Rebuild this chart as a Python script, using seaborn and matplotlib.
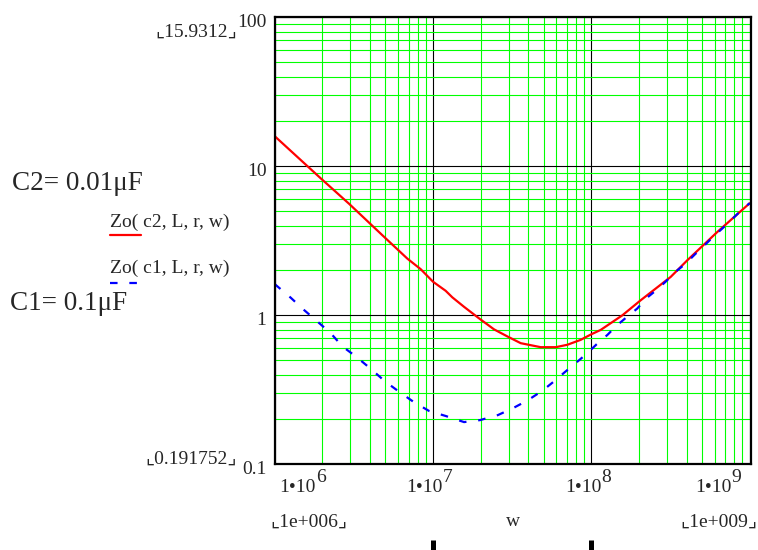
import numpy as np
import pandas as pd
import matplotlib
matplotlib.use("Agg")
import matplotlib.pyplot as plt
import seaborn as sns
from matplotlib.ticker import LogLocator, FixedLocator, NullFormatter, NullLocator
from matplotlib.lines import Line2D

# ---------------- data ----------------
freq_c2 = [1.0e6, 1.954e6, 2.951e6, 4.909e6, 6.887e6, 8.356e6, 1.0e7, 1.202e7,
           1.324e7, 1.570e7, 1.950e7, 2.427e7, 2.951e7, 3.581e7, 4.786e7,
           5.957e7, 7.047e7, 8.551e7, 1.0e8, 1.146e8, 1.570e8, 2.046e8,
           3.170e8, 4.036e8, 6.237e8, 1.0e9]
zo_c2 = [15.93, 8.30, 5.60, 3.36, 2.40, 2.04, 1.68, 1.46,
         1.32, 1.14, 0.955, 0.805, 0.721, 0.650, 0.611,
         0.611, 0.634, 0.684, 0.746, 0.798, 1.00, 1.26,
         1.81, 2.34, 3.62, 5.65]

freq_c1 = [1.0e6, 1.265e6, 1.510e6, 1.862e6, 2.259e6, 2.679e6, 3.296e6, 4.046e6,
           4.977e6, 6.053e6, 7.586e6, 9.441e6, 1.202e7, 1.570e7, 1.982e7,
           2.570e7, 3.221e7, 3.945e7, 4.909e7, 5.808e7, 6.808e7, 7.962e7,
           9.441e7, 1.081e8, 1.262e8, 1.445e8, 1.687e8, 1.950e8, 2.203e8,
           2.582e8, 2.944e8, 3.404e8, 3.936e8, 4.487e8, 5.188e8, 5.943e8,
           6.871e8, 7.870e8, 9.057e8, 1.0e9]
zo_c1 = [1.62, 1.31, 1.10, 0.908, 0.758, 0.618, 0.524, 0.437,
         0.360, 0.309, 0.261, 0.228, 0.211, 0.192, 0.198,
         0.214, 0.239, 0.268, 0.312, 0.360, 0.416, 0.478,
         0.557, 0.640, 0.738, 0.853, 0.98, 1.11, 1.29,
         1.48, 1.68, 1.96, 2.22, 2.55, 2.95, 3.40,
         3.91, 4.49, 5.19, 5.65]

y_ticks = [0.1, 1, 10, 100]
y_tick_labels = ["0.1", "1", "10", "100"]
x_decades = [1e6, 1e7, 1e8, 1e9]
x_exponents = ["6", "7", "8", "9"]
legend_labels = ["Zo( c2, L, r, w)", "Zo( c1, L, r, w)"]
cap_labels = ["C2= 0.01\u03bcF", "C1= 0.1\u03bcF"]
y_max_label = "15.9312"
y_min_label = "0.191752"
x_min_label = "1e+006"
x_max_label = "1e+009"
x_var = "w"

# ---------------- style ----------------
sns.set_style("white")
plt.rcParams["font.family"] = ["Liberation Serif", "DejaVu Sans"]
SERIF = ["Liberation Serif", "DejaVu Sans"]
FS = 14

W, H = 758, 550
fig = plt.figure(figsize=(W / 100, H / 100), dpi=100)
L, R, T, B = 274.7, 750.7, 17.3, 464.3
ax = fig.add_axes([L / W, 1 - B / H, (R - L) / W, (B - T) / H])
ax.set_xscale("log")
ax.set_yscale("log")

df2 = pd.DataFrame({"w": freq_c2, "Zo": zo_c2})
df1 = pd.DataFrame({"w": freq_c1, "Zo": zo_c1})

GREEN = "#00FF00"
# grid
for d in [2, 3, 4, 5, 6, 7, 8, 9]:
    pass
ax.xaxis.set_major_locator(FixedLocator(x_decades))
ax.xaxis.set_minor_locator(LogLocator(base=10, subs=np.arange(2, 10), numticks=30))
ax.yaxis.set_major_locator(FixedLocator(y_ticks))
ax.yaxis.set_minor_locator(LogLocator(base=10, subs=np.arange(2, 10), numticks=30))
ax.grid(which="minor", color=GREEN, lw=0.8, zorder=0)
ax.grid(which="major", color="black", lw=0.8, zorder=0.5)
ax.set_axisbelow(True)

sns.lineplot(data=df2, x="w", y="Zo", ax=ax, color="#FF0000", lw=1.6, zorder=3)
sns.lineplot(data=df1, x="w", y="Zo", ax=ax, color="#0000FF", lw=1.6, zorder=3)
ax.lines[-1].set_dashes((3.4, 5.3))

ax.set_xlim(1e6, 1.015e9)
ax.set_ylim(0.1, 100)
ax.set_xlabel("")
ax.set_ylabel("")

for s in ax.spines.values():
    s.set_color("black")
    s.set_linewidth(1.6)
    s.set_zorder(5)

ax.tick_params(which="both", length=0)
ax.set_xticklabels([])
ax.set_yticks(y_ticks)
ax.set_yticklabels(y_tick_labels, fontsize=FS, family=SERIF)
ax.tick_params(axis="y", pad=6)
ax.yaxis.set_minor_formatter(NullFormatter())
ax.xaxis.set_minor_formatter(NullFormatter())
import matplotlib.transforms as mtrans
off = mtrans.ScaledTranslation(0, -3 / 100, fig.dpi_scale_trans)
for lab in ax.get_yticklabels():
    lab.set_transform(lab.get_transform() + off)

# x tick labels 1•10^n (Mathcad style)
x_shift_px = [41, 10, 10, -18]
for dec, ex, dx in zip(x_decades, x_exponents, x_shift_px):
    ax.annotate("1\u202210", xy=(dec, 0), xycoords=("data", "axes fraction"),
                xytext=(dx * 0.72, -27.7 * 0.72), textcoords="offset points",
                ha="right", va="baseline", fontsize=FS, family=SERIF,
                annotation_clip=False)
    ax.annotate(ex, xy=(dec, 0), xycoords=("data", "axes fraction"),
                xytext=(dx * 0.72, -17.7 * 0.72), textcoords="offset points",
                ha="left", va="baseline", fontsize=FS, family=SERIF,
                annotation_clip=False)

# marker bars below at 1e7 and 1e8
tb = mtrans.blended_transform_factory(ax.transData, fig.transFigure)
for dec in x_decades[1:3]:
    ax.add_line(Line2D([dec, dec], [0, 10 / H], transform=tb, color="black",
                       lw=3.6, solid_capstyle="butt", clip_on=False))

# limit labels
def bracket(txt, x, y, ha):
    fig.text(x / W, 1 - y / H, "\u231e" + txt + "\u231f", fontsize=FS,
             family=SERIF, ha=ha, va="center")

bracket(y_max_label, 237, 32, "right")
bracket(y_min_label, 237, 459, "right")
bracket(x_min_label, 270, 522, "left")
bracket(x_max_label, 757, 522, "right")
fig.text(513 / W, 1 - 522 / H, x_var, fontsize=FS, family=SERIF, ha="center", va="center")

# capacitance notes
fig.text(12 / W, 1 - 184 / H, cap_labels[0], fontsize=19.5, family=SERIF, ha="left", va="center")
fig.text(10 / W, 1 - 304 / H, cap_labels[1], fontsize=19.5, family=SERIF, ha="left", va="center")

# legend
fig.text(110 / W, 1 - 222 / H, legend_labels[0], fontsize=FS, family=SERIF, ha="left", va="center")
fig.text(110 / W, 1 - 268 / H, legend_labels[1], fontsize=FS, family=SERIF, ha="left", va="center")
fig.add_artist(Line2D([110 / W, 141 / W], [1 - 235 / H] * 2, color="#FF0000", lw=1.6,
                      transform=fig.transFigure))
lb = Line2D([110 / W, 137 / W], [1 - 283 / H] * 2, color="#0000FF", lw=1.6,
            transform=fig.transFigure)
lb.set_dashes((3.4, 5.3))
fig.add_artist(lb)

fig.savefig("out.png", dpi=100)
